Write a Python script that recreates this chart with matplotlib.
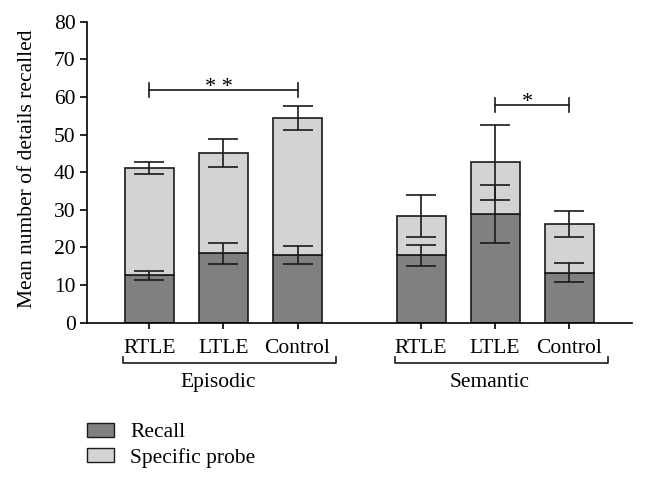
import matplotlib
matplotlib.use("Agg")
import matplotlib.pyplot as plt
from matplotlib.patches import Patch

plt.rcParams['font.family'] = ['Liberation Serif', 'DejaVu Serif']

groups = ['Episodic', 'Semantic']
conditions = ['RTLE', 'LTLE', 'Control']

# mean number of details
recall = [12.6, 18.5, 17.9, 17.9, 28.8, 13.3]
recall_err = [1.2, 2.8, 2.4, 2.8, 7.7, 2.6]
total = [41.2, 45.1, 54.5, 28.4, 42.6, 26.2]
total_err = [1.6, 3.7, 3.2, 5.5, 9.9, 3.4]
probe = [t - r for t, r in zip(total, recall)]

# significance brackets: (left bar, right bar, height, label)
sig = [(0, 2, 61.8, '* *'), (4, 5, 57.8, '*')]

gap = 1.667
pos = [0, 1, 2, gap + 2, gap + 3, gap + 4]
w = 0.66
fs = 15.5

fig = plt.figure(figsize=(6.46, 4.82), dpi=100)
ax = fig.add_axes([0.1354, 0.3305, 0.8437, 0.6245])

ax.bar(pos, recall, w, color='#808080', edgecolor='#1a1a1a', linewidth=1.2, zorder=2)
ax.bar(pos, probe, w, bottom=recall, color='#d3d3d3', edgecolor='#1a1a1a', linewidth=1.2, zorder=2)
ekw = dict(fmt='none', ecolor='#1a1a1a', elinewidth=1.2, capsize=10.5, capthick=1.2, zorder=3)
ax.errorbar(pos, total, yerr=total_err, **ekw)
ax.errorbar(pos, recall, yerr=recall_err, **ekw)

for a, b, h, lab in sig:
    x0, x1 = pos[a], pos[b]
    ax.plot([x0, x1], [h, h], color='#1a1a1a', lw=1.2)
    ax.plot([x0, x0], [h - 1.8, h + 1.8], color='#1a1a1a', lw=1.2)
    ax.plot([x1, x1], [h - 1.8, h + 1.8], color='#1a1a1a', lw=1.2)
    ax.text((x0 + x1) / 2 - 0.06, h - 0.5, lab, ha='center', va='baseline', fontsize=16)

ax.set_xlim(-0.835, 6.52)
ax.set_ylim(0, 80)
ax.set_yticks(range(0, 81, 10))
ax.set_xticks(pos)
ax.set_xticklabels(conditions * 2, fontsize=fs)
ax.tick_params(axis='y', labelsize=fs, length=5, width=1.2, direction='out', pad=3.5)
ax.tick_params(axis='x', length=4.5, width=1.2, direction='out', pad=7.5)
for s in ['top', 'right']:
    ax.spines[s].set_visible(False)
for s in ['left', 'bottom']:
    ax.spines[s].set_linewidth(1.2)
ax.set_ylabel('Mean number of details recalled', fontsize=fs)
ax.yaxis.set_label_coords(-0.093, 0.51)

# group brackets under the condition labels
for i, g in enumerate(groups):
    start = pos[3 * i]
    xa, xb = start - 0.35, start + 2.52
    ax.plot([xa, xa, xb, xb], [-9.2, -10.8, -10.8, -9.2], color='#1a1a1a', lw=1.2, clip_on=False)
    ax.text(pos[3 * i + 1] - 0.07, -16.0, g, ha='center', va='center', fontsize=fs)

handles = [Patch(facecolor='#808080', edgecolor='#1a1a1a', label='Recall'),
           Patch(facecolor='#d3d3d3', edgecolor='#1a1a1a', label='Specific probe')]
fig.legend(handles=handles, loc='upper left', bbox_to_anchor=(0.135, 0.1225), frameon=False,
           fontsize=fs, handlelength=1.26, handleheight=0.6, handletextpad=0.73,
           labelspacing=0.26, borderpad=0, borderaxespad=0)

fig.savefig('out.png', dpi=100)
